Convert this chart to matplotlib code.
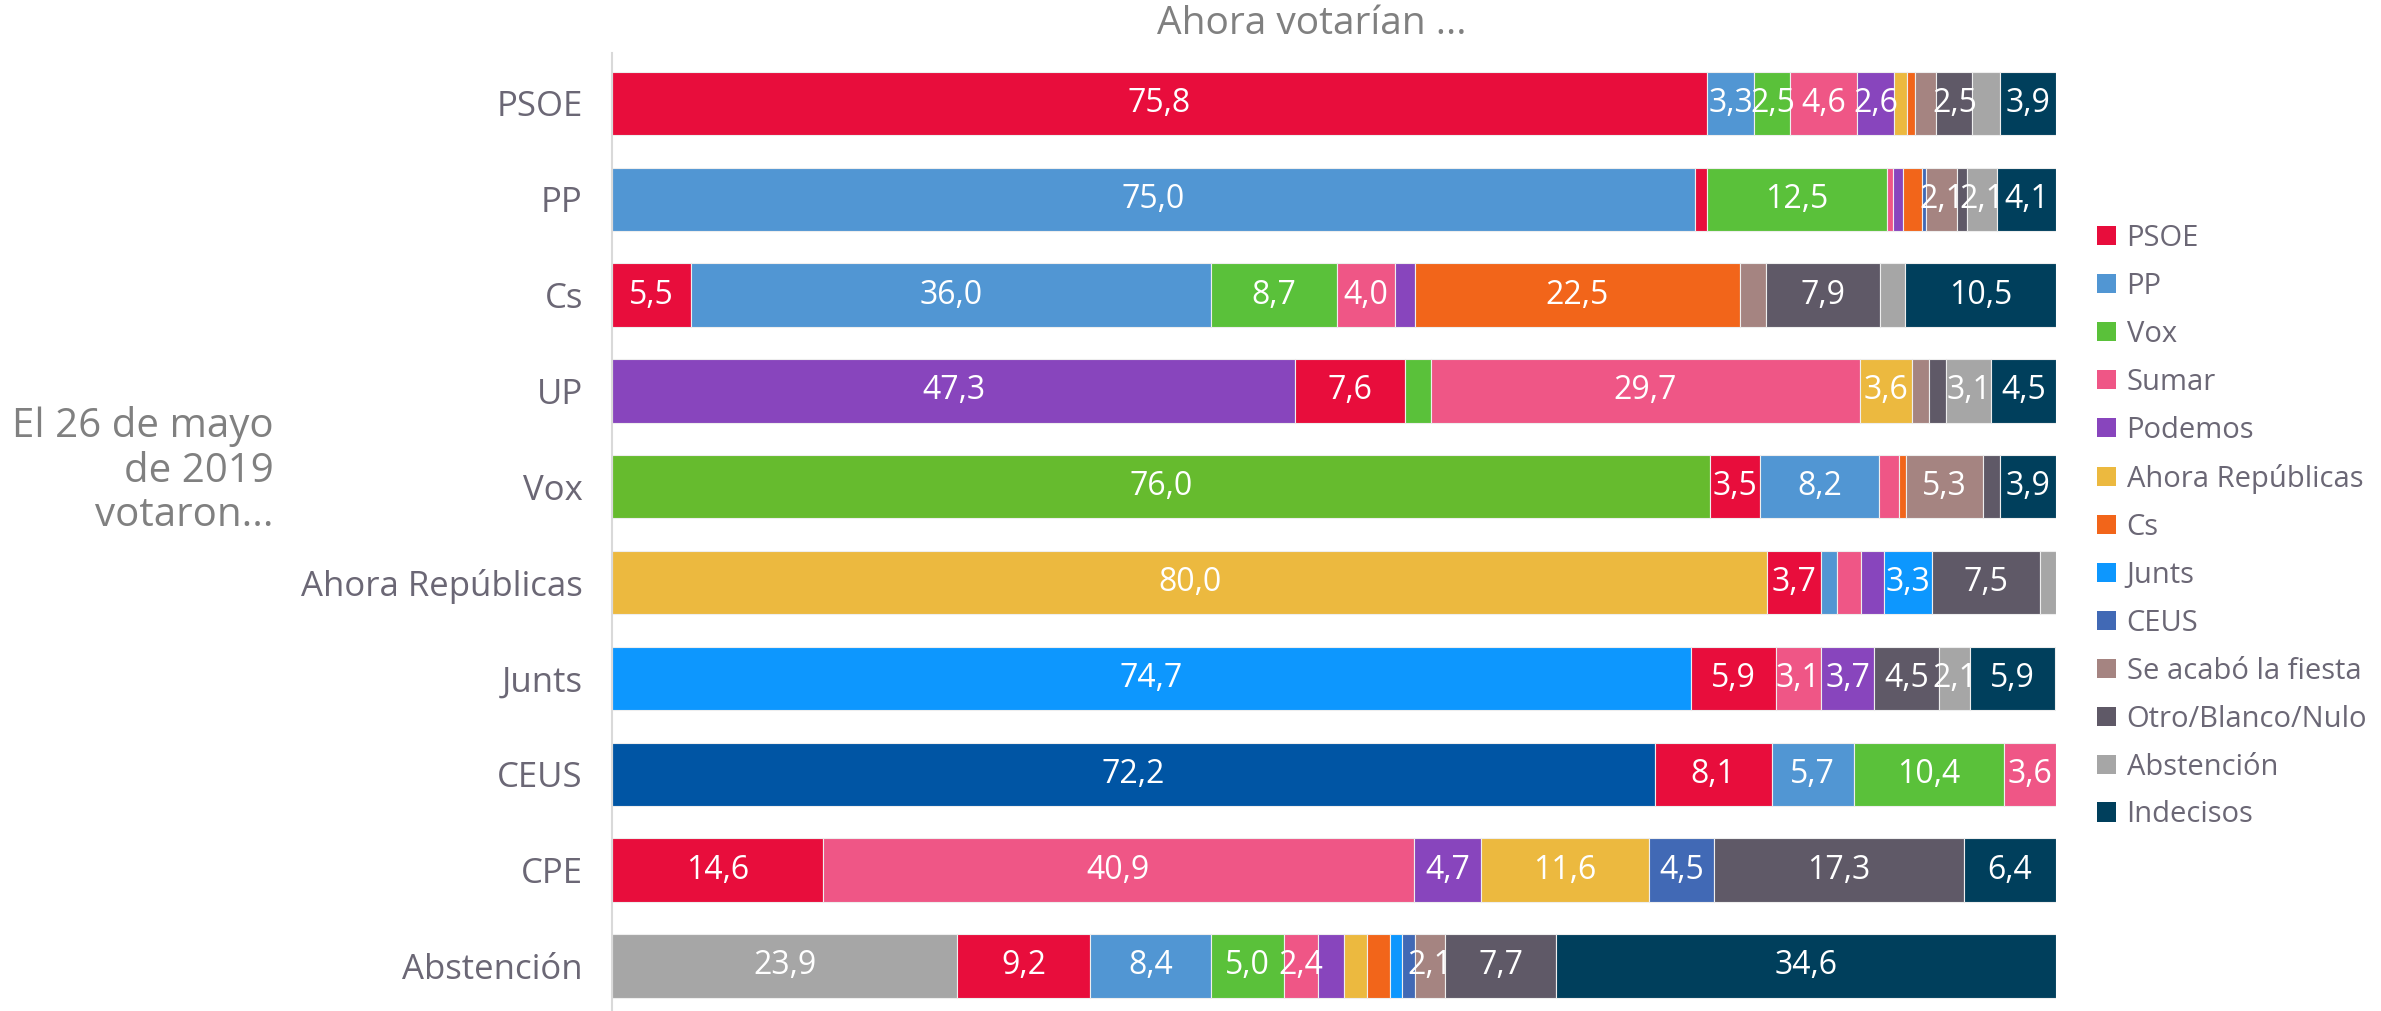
import matplotlib
matplotlib.use("Agg")
import matplotlib.pyplot as plt
import numpy as np

plt.rcParams['font.family'] = ['Open Sans', 'DejaVu Sans']

# rows (2019 vote) and series (current intention)
rows = ['PSOE', 'PP', 'Cs', 'UP', 'Vox', 'Ahora Repúblicas', 'Junts', 'CEUS', 'CPE', 'Abstención']
series = ['PSOE', 'PP', 'Vox', 'Sumar', 'Podemos', 'Ahora Repúblicas', 'Cs', 'Junts',
          'CEUS', 'Se acabó la fiesta', 'Otro/Blanco/Nulo', 'Abstención', 'Indecisos']
colors = ['#e80d3c', '#5196d3', '#5ac13a', '#ef5686', '#8845bd', '#ecb93f', '#f2651a',
          '#0d97fe', '#4169b5', '#a58481', '#5f5967', '#a6a6a6', '#003f5c']

# values per series, one per row (same order as rows)
psoe      = [75.8, 0.8, 5.5, 7.6, 3.5, 3.7, 5.9, 8.1, 14.6, 9.2]
pp        = [3.3, 75.0, 36.0, 0.0, 8.2, 1.1, 0.0, 5.7, 0.0, 8.4]
vox       = [2.5, 12.5, 8.7, 1.8, 76.0, 0.0, 0.0, 10.4, 0.0, 5.0]
sumar     = [4.6, 0.4, 4.0, 29.7, 1.4, 1.7, 3.1, 3.6, 40.9, 2.4]
podemos   = [2.6, 0.7, 1.4, 47.3, 0.0, 1.6, 3.7, 0.0, 4.7, 1.8]
ahora_rep = [0.9, 0.0, 0.0, 3.6, 0.0, 80.0, 0.0, 0.0, 11.6, 1.6]
cs        = [0.5, 1.3, 22.5, 0.0, 0.5, 0.0, 0.0, 0.0, 0.0, 1.6]
junts     = [0.0, 0.0, 0.0, 0.0, 0.0, 3.3, 74.7, 0.0, 0.0, 0.8]
ceus      = [0.0, 0.3, 0.0, 0.0, 0.0, 0.0, 0.0, 72.2, 4.5, 0.9]
salf      = [1.5, 2.1, 1.8, 1.2, 5.3, 0.0, 0.0, 0.0, 0.0, 2.1]
otro      = [2.5, 0.7, 7.9, 1.2, 1.2, 7.5, 4.5, 0.0, 17.3, 7.7]
abst      = [1.9, 2.1, 1.7, 3.1, 0.0, 1.1, 2.1, 0.0, 0.0, 23.9]
indecisos = [3.9, 4.1, 10.5, 4.5, 3.9, 0.0, 5.9, 0.0, 6.4, 34.6]

# series drawn first in each row (the loyal vote), None = plain legend order
loyal = ['PSOE', 'PP', None, 'Podemos', 'Vox', 'Ahora Repúblicas', 'Junts', 'CEUS', None, 'Abstención']
loyal_color = {'Vox': '#66bb2e', 'CEUS': '#0055a4'}

data = np.array([psoe, pp, vox, sumar, podemos, ahora_rep, cs, junts,
                 ceus, salf, otro, abst, indecisos])

fig = plt.figure(figsize=(23.81, 10.11), dpi=100)
ax = fig.add_axes([0.257, 0.0, 0.6066, 0.948])

y = np.arange(len(rows))
for i in range(len(rows)):
    order = list(range(len(series)))
    if loyal[i] is not None:
        k = series.index(loyal[i])
        order.remove(k)
        order = [k] + order
    left = 0.0
    for k in order:
        v = data[k, i]
        if v <= 0:
            continue
        c = colors[k]
        if k == order[0] and loyal[i] in loyal_color:
            c = loyal_color[loyal[i]]
        ax.barh(y[i], v, left=left, height=0.66, color=c, edgecolor='#eeeeee', linewidth=0.8)
        if v >= 2.0:
            ax.text(left + v / 2, y[i], f"{v:.1f}".replace('.', ','), ha='center', va='center',
                    color='white', fontsize=23)
        left += v

# legend handles
for k, s in enumerate(series):
    ax.barh(0, 0, color=colors[k], label=s)

ax.set_xlim(0, 100)
ax.set_ylim(9.47, -0.53)
ax.set_yticks(y)
ax.set_yticklabels(rows, fontsize=25, color='#6b6775')
ax.tick_params(axis='y', length=0, pad=21)
ax.set_xticks([])
for side in ['top', 'right', 'bottom']:
    ax.spines[side].set_visible(False)
ax.spines['left'].set_color('#d9d9d9')
ax.spines['left'].set_linewidth(1.5)

fig.text(0.551, 0.976, 'Ahora votarían ...', ha='center', va='center', fontsize=28, color='#808080')
fig.text(0.115, 0.534, 'El 26 de mayo\nde 2019\nvotaron...', ha='right', va='center',
         fontsize=29, color='#808080', linespacing=1.13)

leg = fig.legend(loc='upper left', bbox_to_anchor=(0.876, 0.79), frameon=False, fontsize=21,
                 handlelength=0.65, handleheight=0.65, handletextpad=0.35, labelspacing=0.65,
                 borderaxespad=0)
for t in leg.get_texts():
    t.set_color('#6b6775')

fig.savefig('out.png', dpi=100)
